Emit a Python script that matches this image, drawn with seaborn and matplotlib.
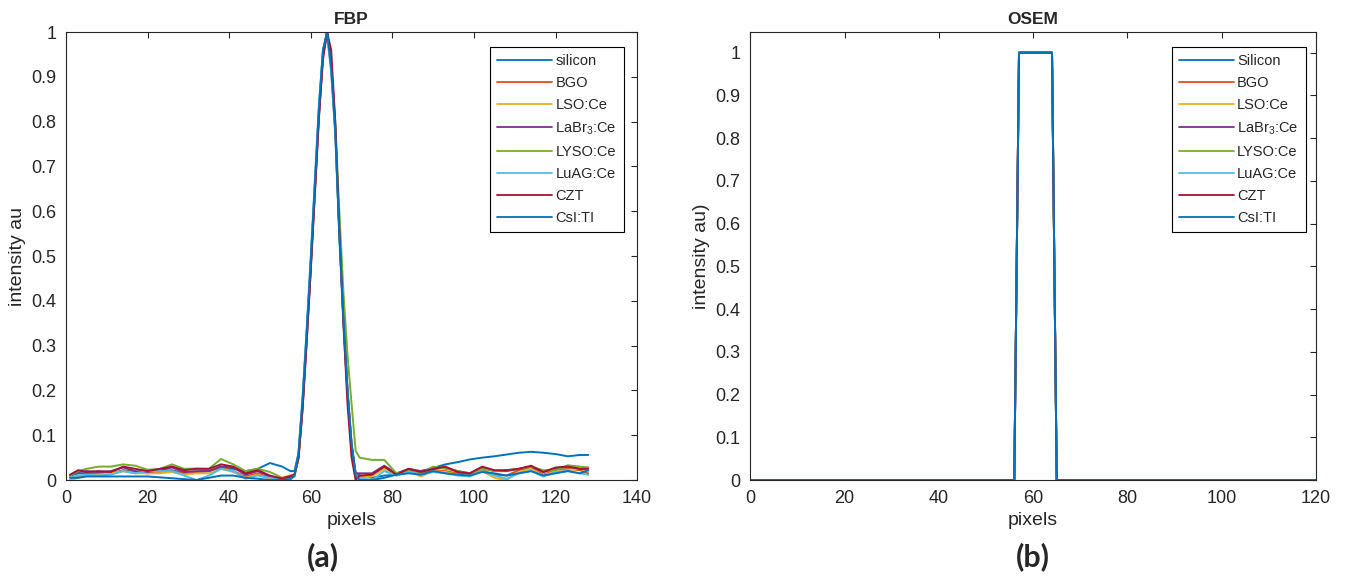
import numpy as np
import pandas as pd
import seaborn as sns
import matplotlib.pyplot as plt
from matplotlib.ticker import FuncFormatter

# --- data ---
fbp_labels = ["silicon", "BGO", "LSO:Ce", "LaBr$_\\mathregular{3}$:Ce", "LYSO:Ce", "LuAG:Ce", "CZT", "CsI:TI"]
osem_labels = ["Silicon", "BGO", "LSO:Ce", "LaBr$_\\mathregular{3}$:Ce", "LYSO:Ce", "LuAG:Ce", "CZT", "CsI:TI"]
line_colors = ["#0072BD", "#D95319", "#EDB120", "#7E2F8E", "#77AC30", "#4DBEEE", "#A2142F", "#0072BD"]

fbp_x = [1, 3, 5, 8, 11, 14, 17, 20, 23, 26, 29, 32, 35, 38, 41, 44, 47, 50, 53, 55,
         56, 57, 58, 59, 60, 61, 62, 63, 64, 65, 66, 67, 68, 69, 70, 71, 72,
         75, 78, 81, 84, 87, 90, 93, 96, 99, 102, 105, 108, 111, 114, 117, 120, 123, 126, 128]

silicon = [0.010, 0.015, 0.015, 0.015, 0.015, 0.022, 0.018, 0.020, 0.020, 0.022, 0.015, 0.018, 0.020, 0.028, 0.025, 0.020, 0.025, 0.038, 0.030, 0.020,
           0.020, 0.06, 0.18, 0.33, 0.49, 0.66, 0.83, 0.96, 1.00, 0.92, 0.78, 0.55, 0.36, 0.20, 0.08, 0.015, 0.010,
           0.005, 0.010, 0.012, 0.018, 0.020, 0.027, 0.035, 0.040, 0.046, 0.050, 0.053, 0.057, 0.061, 0.063, 0.061, 0.058, 0.053, 0.056, 0.056]
bgo = [0.000, 0.008, 0.012, 0.015, 0.015, 0.020, 0.018, 0.015, 0.018, 0.020, 0.015, 0.018, 0.020, 0.030, 0.020, 0.008, 0.015, 0.005, 0.005, 0.010,
       0.012, 0.05, 0.17, 0.32, 0.48, 0.65, 0.82, 0.95, 1.00, 0.93, 0.79, 0.56, 0.36, 0.19, 0.07, 0.010, 0.005,
       0.012, 0.028, 0.012, 0.022, 0.015, 0.022, 0.020, 0.015, 0.012, 0.022, 0.012, 0.010, 0.022, 0.028, 0.012, 0.022, 0.025, 0.022, 0.015]
lso = [0.000, 0.005, 0.010, 0.012, 0.015, 0.020, 0.015, 0.015, 0.015, 0.018, 0.012, 0.015, 0.015, 0.025, 0.018, 0.005, 0.012, 0.003, 0.000, 0.005,
       0.010, 0.05, 0.17, 0.32, 0.48, 0.65, 0.82, 0.95, 1.00, 0.92, 0.78, 0.55, 0.36, 0.20, 0.08, 0.010, 0.005,
       0.008, 0.025, 0.010, 0.020, 0.008, 0.020, 0.018, 0.012, 0.010, 0.020, 0.005, 0.000, 0.018, 0.025, 0.010, 0.020, 0.022, 0.025, 0.020]
labr3 = [0.010, 0.018, 0.020, 0.018, 0.020, 0.028, 0.020, 0.018, 0.022, 0.028, 0.018, 0.020, 0.020, 0.030, 0.028, 0.012, 0.020, 0.008, 0.000, 0.005,
         0.010, 0.05, 0.16, 0.31, 0.47, 0.64, 0.81, 0.95, 1.00, 0.93, 0.79, 0.56, 0.37, 0.20, 0.08, 0.015, 0.015,
         0.015, 0.032, 0.015, 0.025, 0.020, 0.025, 0.028, 0.020, 0.015, 0.028, 0.020, 0.020, 0.025, 0.030, 0.018, 0.025, 0.030, 0.025, 0.028]
lyso = [0.010, 0.020, 0.025, 0.030, 0.030, 0.035, 0.032, 0.023, 0.025, 0.035, 0.025, 0.026, 0.025, 0.047, 0.035, 0.020, 0.025, 0.018, 0.005, 0.002,
        0.008, 0.05, 0.17, 0.32, 0.48, 0.65, 0.82, 0.95, 1.00, 0.93, 0.80, 0.60, 0.42, 0.28, 0.17, 0.065, 0.050,
        0.045, 0.045, 0.015, 0.020, 0.015, 0.030, 0.025, 0.020, 0.015, 0.025, 0.020, 0.022, 0.025, 0.030, 0.022, 0.022, 0.033, 0.030, 0.028]
luag = [0.005, 0.010, 0.012, 0.010, 0.012, 0.020, 0.015, 0.020, 0.020, 0.020, 0.010, 0.000, 0.010, 0.025, 0.020, 0.003, 0.010, 0.005, 0.000, 0.003,
        0.008, 0.06, 0.19, 0.34, 0.50, 0.67, 0.84, 0.96, 0.99, 0.91, 0.77, 0.54, 0.35, 0.19, 0.07, 0.010, 0.005,
        0.000, 0.020, 0.010, 0.018, 0.012, 0.018, 0.015, 0.010, 0.008, 0.020, 0.010, 0.003, 0.015, 0.020, 0.008, 0.018, 0.020, 0.015, 0.012]
czt = [0.012, 0.022, 0.018, 0.020, 0.018, 0.030, 0.025, 0.020, 0.025, 0.030, 0.022, 0.025, 0.025, 0.035, 0.030, 0.015, 0.022, 0.010, 0.003, 0.008,
       0.012, 0.05, 0.16, 0.31, 0.47, 0.64, 0.81, 0.94, 1.00, 0.96, 0.80, 0.56, 0.35, 0.17, 0.05, 0.000, 0.010,
       0.012, 0.030, 0.012, 0.025, 0.018, 0.025, 0.030, 0.018, 0.015, 0.030, 0.022, 0.022, 0.025, 0.032, 0.018, 0.028, 0.030, 0.025, 0.025]
csi = [0.005, 0.005, 0.008, 0.008, 0.008, 0.008, 0.008, 0.008, 0.006, 0.004, 0.002, 0.000, 0.005, 0.010, 0.010, 0.005, 0.003, 0.000, 0.000, 0.002,
       0.010, 0.06, 0.18, 0.33, 0.49, 0.66, 0.83, 0.96, 1.00, 0.92, 0.78, 0.55, 0.36, 0.20, 0.08, 0.010, 0.000,
       0.000, 0.005, 0.012, 0.015, 0.012, 0.020, 0.015, 0.012, 0.010, 0.018, 0.015, 0.010, 0.015, 0.020, 0.010, 0.015, 0.020, 0.015, 0.022]
fbp_series = [silicon, bgo, lso, labr3, lyso, luag, czt, csi]

# OSEM: every material gives the same rectangular profile
osem_x = [0, 56, 57, 64, 65, 120]
osem_y = [0, 0, 1, 1, 0, 0]

# --- long-form tables ---
fbp_df = pd.concat([pd.DataFrame({"pixels": fbp_x, "intensity": vals, "material": name})
                    for name, vals in zip(fbp_labels, fbp_series)], ignore_index=True)
osem_df = pd.concat([pd.DataFrame({"pixels": osem_x, "intensity": osem_y, "material": name})
                     for name in osem_labels], ignore_index=True)

# --- plotting ---
sns.set_style("white")
plt.rcParams["font.family"] = ["Liberation Sans", "DejaVu Sans"]
plt.rcParams["legend.fancybox"] = False
plt.rcParams["xtick.direction"] = "in"
plt.rcParams["ytick.direction"] = "in"

fig = plt.figure(figsize=(13.47, 5.84), dpi=100)
ax1 = fig.add_axes([0.049, 0.178, 0.424, 0.767])
ax2 = fig.add_axes([0.557, 0.178, 0.420, 0.767])

panels = [
    (ax1, fbp_df, fbp_labels, "FBP", "intensity au", (0, 140), np.arange(0, 141, 20), 1.0, 0.977),
    (ax2, osem_df, osem_labels, "OSEM", "intensity au)", (0, 120), np.arange(0, 121, 20), 1.048, 0.982),
]

for ax, df, labels, title, ylab, xlim, xticks, ytop, leg_x in panels:
    sns.lineplot(data=df, x="pixels", y="intensity", hue="material", hue_order=labels,
                 palette=dict(zip(labels, line_colors)), estimator=None, sort=False,
                 linewidth=1.4, ax=ax)
    ax.set_xlim(*xlim)
    ax.set_ylim(0, ytop)
    ax.set_xticks(xticks)
    ax.set_yticks(np.arange(0, 1.01, 0.1))
    ax.yaxis.set_major_formatter(FuncFormatter(lambda v, p: "%g" % round(v, 2)))
    ax.tick_params(axis="both", which="both", direction="in", length=4, width=0.8,
                   top=True, right=True, labelsize=13, colors="#262626", pad=7)
    for s in ax.spines.values():
        s.set_color("#262626")
        s.set_linewidth(0.8)
    ax.set_title(title, fontsize=12.5, fontweight="bold", pad=6)
    ax.set_xlabel("pixels", fontsize=14, color="#262626", labelpad=4)
    ax.set_ylabel(ylab, fontsize=14, color="#262626", labelpad=4)

    sns.move_legend(ax, "upper right", bbox_to_anchor=(leg_x, 0.967), title=None,
                    frameon=True, fontsize=10.5, handlelength=3.8, handletextpad=0.2,
                    labelspacing=0.55, borderpad=0.5, borderaxespad=0)
    leg = ax.get_legend()
    leg.get_frame().set_edgecolor("black")
    leg.get_frame().set_linewidth(0.8)
    leg.get_frame().set_alpha(1)
    for h in leg.legend_handles:
        h.set_linewidth(1.3)

fig.text(323 / 1347, 1 - 557 / 584, "(a)", fontsize=22, fontweight="bold",
         family=["Lato", "DejaVu Sans"], ha="center", va="center")
fig.text(1033 / 1347, 1 - 557 / 584, "(b)", fontsize=22, fontweight="bold",
         family=["Lato", "DejaVu Sans"], ha="center", va="center")

plt.savefig("out.png", dpi=100)
